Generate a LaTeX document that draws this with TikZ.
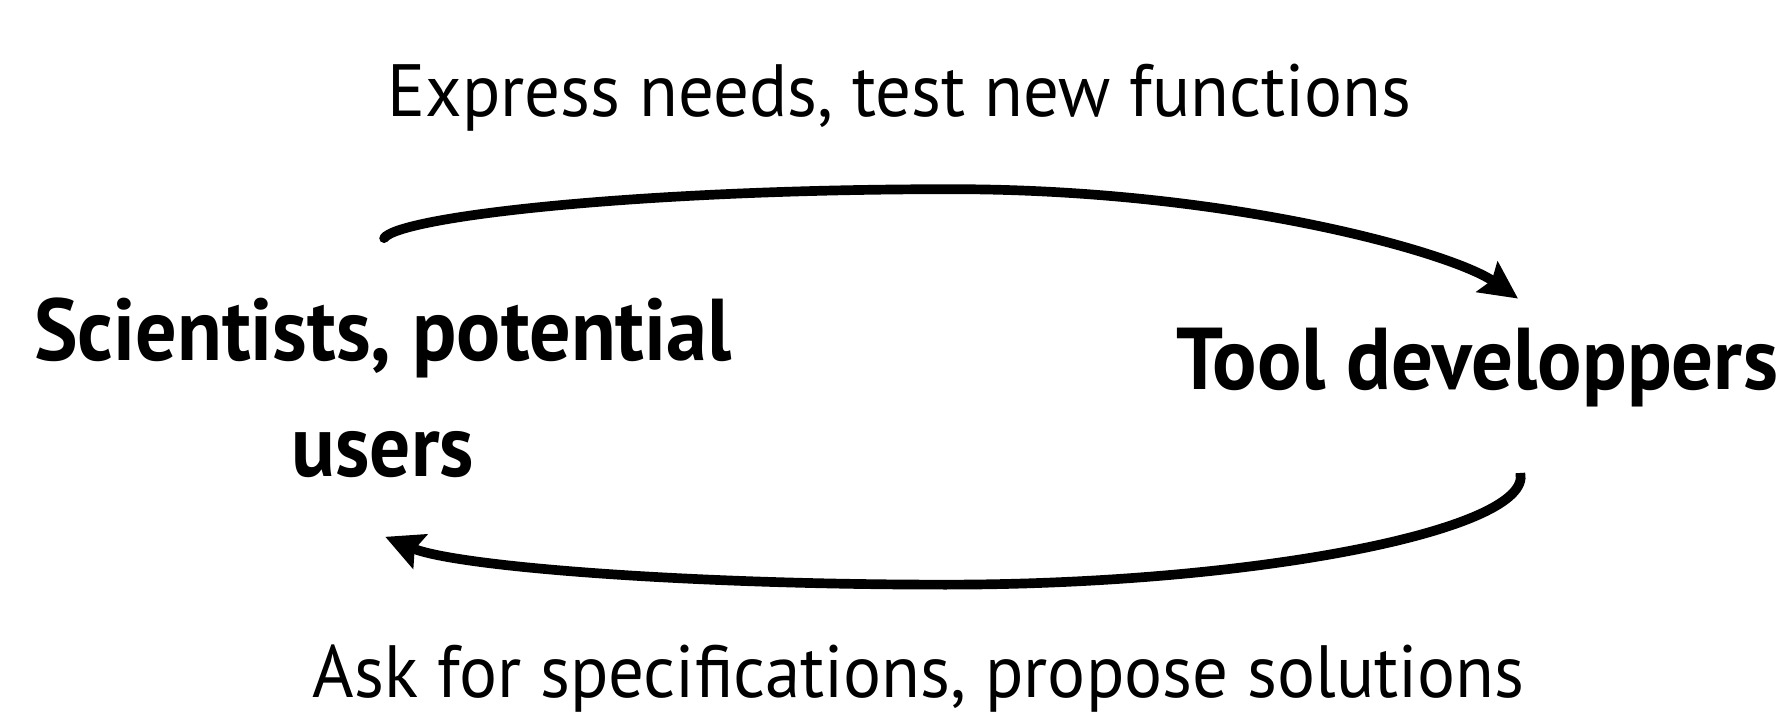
\documentclass[tikz,border=0pt]{standalone}
\usepackage{fontspec}
\setmainfont{PT Sans}
\usetikzlibrary{arrows.meta}
\begin{document}
\begin{tikzpicture}[x=1pt,y=-1pt,
  lbl/.style={inner sep=0pt,outer sep=0pt,anchor=base},
  msg/.style={lbl,font=\fontsize{65}{70}\selectfont},
  actor/.style={lbl,font=\fontsize{77}{102}\selectfont\bfseries},
  flow/.style={line width=8.5pt,-{Stealth[length=33pt,width=32pt,inset=5pt]}}]
\useasboundingbox (0,0) rectangle (1568,626);

% messages exchanged between the two groups
\node[msg] (need) at (789,102) {\resizebox{898pt}{\height}{Express needs, test new functions}};
\node[msg] (spec) at (806,612) {\resizebox{1063pt}{\height}{Ask for specifications, propose solutions}};

% the two groups
\node[actor] (sci) at (336,316) {\begin{tabular}[t]{@{}c@{}}\resizebox{612pt}{\height}{Scientists, potential}\\\resizebox{160pt}{\height}{users}\end{tabular}};
\node[actor] (dev) at (1296,342) {\resizebox{528pt}{\height}{Tool developpers}};

% ends of the two flows
\coordinate (s1) at (337,209);
\coordinate (e1) at (1332,262);
\coordinate (s2) at (1334,415);
\coordinate (e2) at (338,471);

\draw[flow,line cap=round] (s1) .. controls (350,190) and (560,166) .. (835,166)
  .. controls (1080,166) and (1275,222) .. (e1);
\draw[flow] (s2) .. controls (1345,465) and (1100,513) .. (830,513)
  .. controls (600,513) and (400,497) .. (e2);
\end{tikzpicture}
\end{document}
